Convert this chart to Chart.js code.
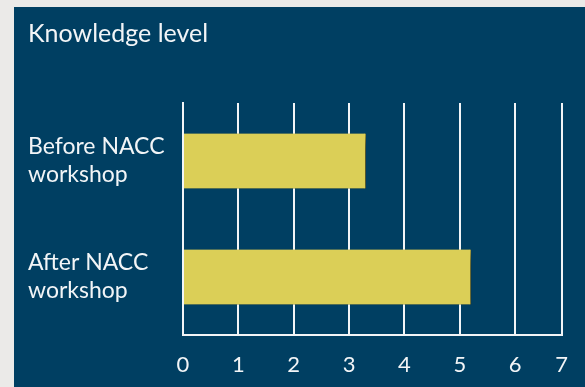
<!DOCTYPE html>
<html>
<head>
<meta charset="utf-8">
<script src="https://cdn.jsdelivr.net/npm/chart.js@4"></script>
<style>
  html, body { margin: 0; padding: 0; background: #ebeae8; }
  body { width: 585px; height: 387px; position: relative; overflow: hidden; }
  #panel { position: absolute; left: 14px; top: 7px; width: 571px; height: 380px; background: #003f62; }
  canvas { display: block; }
</style>
</head>
<body>
<div id="panel"><canvas id="chart" width="571" height="380"></canvas></div>
<script>
// Knowledge level before and after the NACC workshop
const categories = [['Before NACC', 'workshop'], ['After NACC', 'workshop']];
const knowledgeScores = [3.3, 5.2];
const tickLabels = ['0', '1', '2', '3', '4', '5', '6', '7'];

// The frame ends a little short of the last tick; it is drawn at the frame edge.
const axisMax = 6.84;

const FONT = 'Lato, "Open Sans", sans-serif';
const WHITE = '#f2f5f7';

// soft drop shadow behind the bars
const barShadow = {
  id: 'barShadow',
  beforeDatasetsDraw(chart) {
    const ctx = chart.ctx;
    ctx.save();
    ctx.shadowColor = 'rgba(0, 15, 30, 0.6)';
    ctx.shadowBlur = 12;
    ctx.shadowOffsetX = 8;
    ctx.shadowOffsetY = 5;
  },
  afterDatasetsDraw(chart) {
    chart.ctx.restore();
  }
};

new Chart(document.getElementById('chart'), {
  type: 'bar',
  data: {
    labels: categories,
    datasets: [{
      data: knowledgeScores,
      backgroundColor: '#dbcf57',
      borderColor: '#b3a840',
      borderWidth: { top: 0, left: 0, bottom: 0, right: 1 },
      borderSkipped: false,
      barThickness: 55
    }]
  },
  options: {
    indexAxis: 'y',
    responsive: false,
    animation: false,
    layout: { padding: { left: 14, right: 21, top: 0, bottom: 0 } },
    plugins: {
      legend: { display: false },
      tooltip: { enabled: false },
      title: {
        display: true,
        text: 'Knowledge level',
        align: 'start',
        color: WHITE,
        font: { family: FONT, size: 25, weight: 'normal' },
        padding: { top: 12, bottom: 54 }
      }
    },
    scales: {
      x: {
        type: 'linear',
        min: 0,
        max: axisMax,
        afterBuildTicks(scale) {
          scale.ticks = tickLabels.map((t, i) => ({ value: Math.min(i, axisMax) }));
        },
        afterFit(scale) { scale.height = 52; },
        ticks: {
          color: WHITE,
          padding: 17,
          font: { family: FONT, size: 22 },
          maxRotation: 0,
          callback(value, index) { return tickLabels[index]; }
        },
        grid: { color: WHITE, lineWidth: 2, drawTicks: false },
        border: { display: true, color: WHITE, width: 2 }
      },
      y: {
        afterFit(scale) { scale.width = 155; },
        ticks: {
          color: WHITE,
          crossAlign: 'far',
          font: { family: FONT, size: 23, lineHeight: 1.22 }
        },
        grid: { display: false, drawTicks: false },
        border: { display: true, color: WHITE, width: 2 }
      }
    }
  },
  plugins: [barShadow]
});
</script>
</body>
</html>
